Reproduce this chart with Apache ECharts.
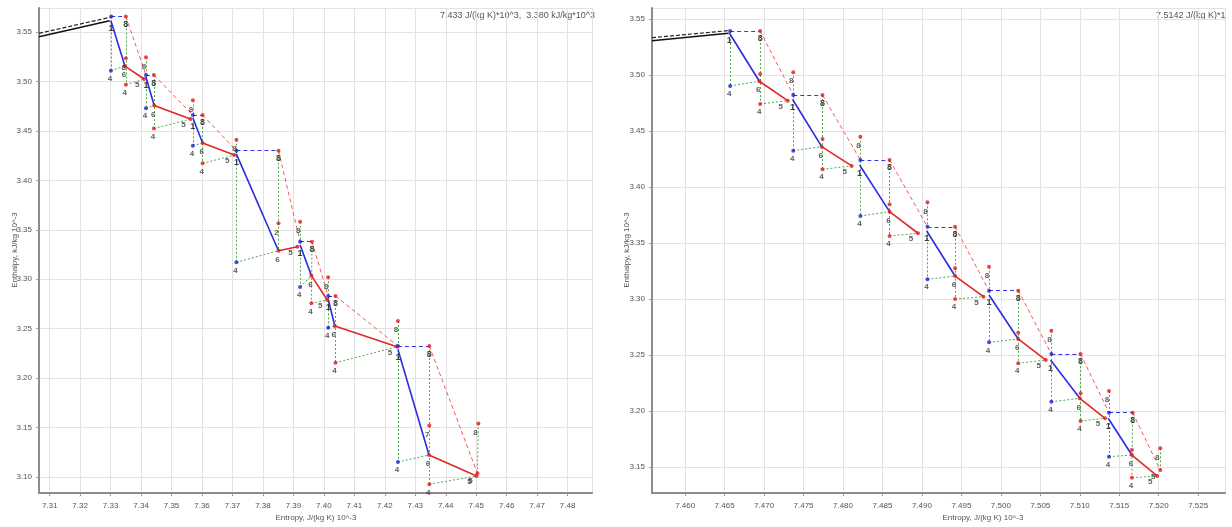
<!DOCTYPE html>
<html>
<head>
<meta charset="utf-8">
<script src="https://cdn.jsdelivr.net/npm/echarts@6/dist/echarts.min.js"></script>
<style>html,body{margin:0;background:#fff}#chart{width:1232px;height:527px}</style>
</head>
<body>
<div id="chart"></div>
<script>
// left diagram, points as [entropy, enthalpy]
var leftIsoSolid = [[7.3065, 3.5452], [7.3297, 3.5614]];
var leftIsoDashed = [[7.3065, 3.5487], [7.3297, 3.5648]];
var leftA = [[7.3302,3.5657],[7.3416,3.5065],[7.3570,3.4661],[7.3713,3.4300],[7.3922,3.3380],[7.4014,3.2831],[7.4243,3.2325]];
var leftB = [[7.3350,3.5657],[7.3442,3.5065],[7.3602,3.4661],[7.3851,3.4300],[7.3961,3.3380],[7.4038,3.2831],[7.4346,3.2325]];
var leftC = [[7.3301,3.5614],[7.3416,3.5045],[7.3570,3.4630],[7.3713,3.4266],[7.3922,3.3346],[7.4014,3.2800],[7.4243,3.2290]];
var leftD = [[7.3347,3.5156],[7.3443,3.4757],[7.3602,3.4378],[7.3851,3.3289],[7.3959,3.3037],[7.4036,3.2527],[7.4345,3.1223]];
var leftE = [[7.3410,3.5025],[7.3562,3.4620],[7.3706,3.4256],[7.3913,3.3329],[7.4011,3.2790],[7.4240,3.2318],[7.4501,3.1011]];
var leftP4b = [[7.3301,3.5109],[7.3416,3.4729],[7.3570,3.4350],[7.3713,3.3171],[7.3922,3.2922],[7.4014,3.2510],[7.4243,3.1152]];
var leftP4r = [[7.3350,3.4967],[7.3442,3.4524],[7.3602,3.4172],null,[7.3959,3.2757],[7.4038,3.2156],[7.4346,3.0927]];
var leftP8 = [[7.3350,3.5234],null,null,[7.3851,3.3566],null,null,[7.4346,3.1521]];
var leftP8Text = ['8', '', '', '2', '', '', '7'];
var leftP0 = [null,[7.3416,3.5244],[7.3570,3.4809],[7.3713,3.4411],[7.3922,3.3582],[7.4014,3.3020],[7.4243,3.2578]];
var leftF = [7.4504, 3.1038];
var leftF0 = [7.4507, 3.1543];

// right diagram
var rightIsoSolid = [[7.4558, 3.5306], [7.4655, 3.5372]];
var rightIsoDashed = [[7.4558, 3.5333], [7.4655, 3.5396]];
var rightA = [[7.4657,3.5393],[7.4737,3.4821],[7.4822,3.4241],[7.4907,3.3645],[7.4985,3.3074],[7.5064,3.2509],[7.5137,3.1985]];
var rightB = [[7.4695,3.5393],[7.4774,3.4821],[7.4859,3.4241],[7.4942,3.3645],[7.5022,3.3074],[7.5101,3.2509],[7.5167,3.1985]];
var rightC = [[7.4656,3.5375],[7.4736,3.4783],[7.4821,3.4196],[7.4906,3.3607],[7.4985,3.3036],[7.5063,3.2455],[7.5136,3.1935]];
var rightD = [[7.4694,3.4944],[7.4773,3.4360],[7.4859,3.3780],[7.4942,3.3205],[7.5022,3.2643],[7.5100,3.2113],[7.5166,3.1607]];
var rightE = [[7.4730,3.4771],[7.4811,3.4188],[7.4895,3.3587],[7.4978,3.3021],[7.5057,3.2455],[7.5132,3.1935],[7.5198,3.1420]];
var rightP4b = [[7.4657,3.4902],[7.4737,3.4324],[7.4822,3.3741],[7.4907,3.3176],[7.4985,3.2613],[7.5064,3.2083],[7.5137,3.1592]];
var rightP4r = [[7.4695,3.4741],[7.4774,3.4158],[7.4859,3.3563],[7.4942,3.3000],[7.5022,3.2426],[7.5101,3.1911],[7.5166,3.1404]];
var rightP8 = [[7.4695,3.5009],[7.4774,3.4429],[7.4859,3.3845],[7.4942,3.3274],[7.5022,3.2699],[7.5101,3.2158],[7.5166,3.1652]];
var rightP8Text = ['', '', '', '', '', '', ''];
var rightP0 = [null,[7.4737,3.5024],[7.4822,3.4449],[7.4907,3.3863],[7.4985,3.3288],[7.5064,3.2717],[7.5137,3.2179]];
var rightF = [7.5202, 3.1473];
var rightF0 = [7.5202, 3.1667];

var leftNote = '7.433 J/(kg K)*10^3,  3.380 kJ/kg*10^3';
var rightNote = '7.5142 J/(kg K)*1';

var FONT = '"Liberation Sans", Arial, sans-serif';

function lineSeries(g, data, color, width, type, z) {
  return {
    type: 'lines', coordinateSystem: 'cartesian2d', xAxisIndex: g, yAxisIndex: g,
    data: data, silent: true, z: z, animation: false,
    lineStyle: {color: color, width: width, type: type, opacity: 1, curveness: 0}
  };
}
function pointSeries(g, pts, color) {
  return {
    type: 'scatter', xAxisIndex: g, yAxisIndex: g, symbolSize: 4, z: 6,
    data: pts.filter(Boolean), itemStyle: {color: color}, silent: true
  };
}
function labelSeries(g, pts, text, dx, dy, bold) {
  var data = [];
  pts.forEach(function (p, i) {
    var t = typeof text === 'string' ? text : text[i];
    if (p && t) data.push({value: p, label: {formatter: t}});
  });
  return {
    type: 'scatter', xAxisIndex: g, yAxisIndex: g, symbolSize: 1, z: 8, silent: true,
    itemStyle: {color: 'transparent'}, data: data,
    label: {show: true, position: 'inside', offset: [dx, dy], fontSize: bold ? 9 : 8,
      fontWeight: 'bold', color: bold ? '#111' : '#333', fontFamily: FONT}
  };
}

function stageSeries(g, d) {
  var blueDash = [], redDash = [], blueSolid = [], redSolid = [], green = [];
  for (var i = 0; i < d.A.length; i++) {
    blueDash.push({coords: [d.A[i], d.B[i]]});
    redDash.push({coords: [d.B[i], i + 1 < d.A.length ? d.A[i + 1] : d.F]});
    blueSolid.push({coords: [d.C[i], d.D[i]]});
    redSolid.push({coords: [d.D[i], d.E[i]]});
    green.push({coords: [d.P0[i] || d.A[i], d.P4b[i]]});
    green.push({coords: [d.P4b[i], d.D[i]]});
    green.push({coords: [d.B[i], d.P4r[i] || d.D[i]]});
    if (d.P4r[i]) green.push({coords: [d.P4r[i], d.E[i]]});
  }
  green.push({coords: [d.F0, d.F]});
  var reds = d.B.concat(d.D, d.E, d.P4r, d.P8, d.P0, [d.F, d.F0]);
  return [
    lineSeries(g, green, '#4daa4d', 1, [2, 2], 1),
    lineSeries(g, [{coords: d.isoDashed}], '#222', 1.2, [4, 2], 2),
    lineSeries(g, [{coords: d.isoSolid}], '#111', 1.6, 'solid', 2),
    lineSeries(g, redDash, '#f05a5a', 1, [4, 3], 2),
    lineSeries(g, blueDash, '#3434f0', 1.2, [4, 3], 2),
    lineSeries(g, blueSolid, '#2b2be0', 1.6, 'solid', 3),
    lineSeries(g, redSolid, '#e32626', 1.6, 'solid', 3),
    pointSeries(g, reds, '#e41c1c'),
    pointSeries(g, d.A.concat(d.P4b), '#1e1ed8'),
    labelSeries(g, d.C, '1', 0, 8, true),
    labelSeries(g, d.B, '8', 0, 8, true),
    labelSeries(g, d.P4b, '4', -1, 8, false),
    labelSeries(g, d.P4r, '4', -1, 8, false),
    labelSeries(g, d.D, '6', -1, 9, false),
    labelSeries(g, d.E, '5', -7, 6, false),
    labelSeries(g, d.P0, '8', -2, 9, false),
    labelSeries(g, d.P8, d.P8Text, -2, 9, false),
    labelSeries(g, [d.F0], '8', -3, 9, false),
    labelSeries(g, [d.F], '5', -7, 7, false)
  ];
}

function xAxis(g, min, max, split, dec) {
  return {
    gridIndex: g, type: 'value', min: min, max: max, splitNumber: split,
    axisLine: {show: true, onZero: false, lineStyle: {color: '#8c8c8c', width: 2}},
    axisTick: {show: true, length: 3, lineStyle: {color: '#999'}},
    axisLabel: {fontSize: 8, color: '#555', margin: 9, fontFamily: FONT,
      showMinLabel: false, showMaxLabel: false,
      formatter: function (v) { return v.toFixed(dec); }},
    splitLine: {show: true, lineStyle: {color: '#e2e2e2', width: 1}}
  };
}
function yAxis(g, min, max, split) {
  return {
    gridIndex: g, type: 'value', min: min, max: max, splitNumber: split,
    axisLine: {show: true, onZero: false, lineStyle: {color: '#8c8c8c', width: 2}},
    axisTick: {show: true, length: 3, lineStyle: {color: '#999'}},
    axisLabel: {fontSize: 8, color: '#555', margin: 7, fontFamily: FONT,
      showMinLabel: false, showMaxLabel: false,
      formatter: function (v) { return v.toFixed(2); }},
    splitLine: {show: true, lineStyle: {color: '#e2e2e2', width: 1}}
  };
}
function txt(x, y, text, align, rot, size) {
  return {type: 'text', x: x, y: y, rotation: rot || 0, silent: true,
    style: {text: text, fill: '#555', fontSize: size || 8, fontFamily: FONT, align: align, verticalAlign: 'middle'}};
}

var left = {A: leftA, B: leftB, C: leftC, D: leftD, E: leftE, P4b: leftP4b, P4r: leftP4r,
  P8: leftP8, P8Text: leftP8Text, P0: leftP0, F: leftF, F0: leftF0,
  isoSolid: leftIsoSolid, isoDashed: leftIsoDashed};
var right = {A: rightA, B: rightB, C: rightC, D: rightD, E: rightE, P4b: rightP4b, P4r: rightP4r,
  P8: rightP8, P8Text: rightP8Text, P0: rightP0, F: rightF, F0: rightF0,
  isoSolid: rightIsoSolid, isoDashed: rightIsoDashed};

var chart = echarts.init(document.getElementById('chart'));
chart.setOption({
  backgroundColor: '#fff',
  animation: false,
  grid: [
    {left: 39, top: 8, width: 553, height: 485},
    {left: 652, top: 8, width: 573, height: 485}
  ],
  xAxis: [xAxis(0, 7.3065, 7.488, 18, 2), xAxis(1, 7.4558, 7.5284, 14, 3)],
  yAxis: [yAxis(0, 3.0839, 3.5743, 10), yAxis(1, 3.1268, 3.5598, 9)],
  graphic: [
    txt(440, 16, leftNote, 'left', 0, 9),
    txt(1156, 16, rightNote, 'left', 0, 9),
    txt(316, 518, 'Entropy, J/(kg K) 10^-3', 'center'),
    txt(983, 518, 'Entropy, J/(kg K) 10^-3', 'center'),
    txt(15, 250, 'Enthalpy, kJ/kg 10^-3', 'center', Math.PI / 2),
    txt(627, 250, 'Enthalpy, kJ/kg 10^-3', 'center', Math.PI / 2)
  ],
  series: stageSeries(0, left).concat(stageSeries(1, right))
});
</script>
</body>
</html>
